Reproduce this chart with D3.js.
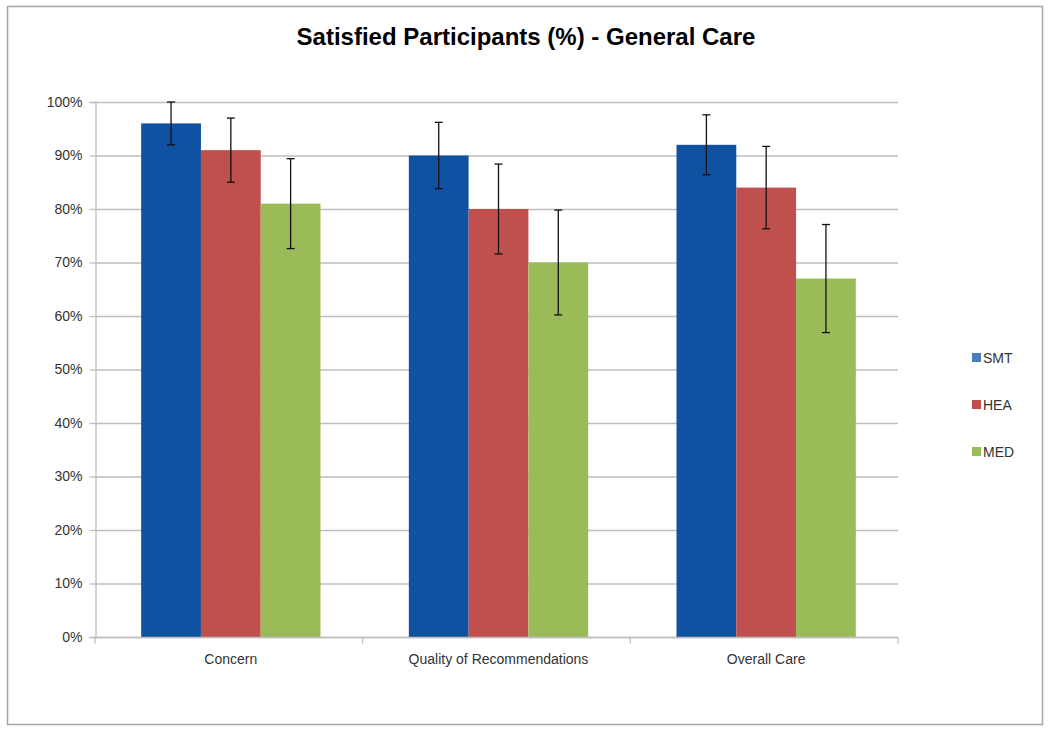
<!DOCTYPE html>
<html><head><meta charset="utf-8">
<script src="https://cdn.jsdelivr.net/npm/d3@7"></script>
<style>body{margin:0;background:#fff;} svg{display:block;}</style>
</head><body>
<svg id="chart" width="1050" height="731"></svg>
<script>
const categories = ["Concern", "Quality of Recommendations", "Overall Care"];
const seriesNames = ["SMT", "HEA", "MED"];
const smtValues = [96, 90, 92];
const heaValues = [91, 80, 84];
const medValues = [81, 70, 67];
const smtErrors = [4, 6.2, 5.6];
const heaErrors = [6, 8.4, 7.7];
const medErrors = [8.4, 9.8, 10.1];
const yTicks = [0, 10, 20, 30, 40, 50, 60, 70, 80, 90, 100];

const barColors = ["#1052A2", "#C0504D", "#9BBB59"];
const legendColors = ["#4A7EBB", "#C0504D", "#9BBB59"];
const values = [smtValues, heaValues, medValues];
const errors = [smtErrors, heaErrors, medErrors];

const svg = d3.select("#chart");
const font = "'Liberation Sans', Arial, sans-serif";

svg.append("rect").attr("x", 7.5).attr("y", 6.5).attr("width", 1035).attr("height", 718)
  .attr("fill", "#fff").attr("stroke", "#A6A6A6").attr("stroke-width", 1.5);

const m = {left: 95, right: 898, top: 102, bottom: 637};
const x0 = d3.scaleBand().domain(categories).range([m.left + 2, m.right + 2]).paddingInner(0.33).paddingOuter(0.165);
const x1 = d3.scaleBand().domain(seriesNames).range([0, x0.bandwidth()]);
const y = d3.scaleLinear().domain([0, 100]).range([m.bottom, m.top]);

// gridlines
svg.append("g").selectAll("line").data(yTicks).join("line")
  .attr("x1", m.left).attr("x2", m.right)
  .attr("y1", d => y(d) + 0.5).attr("y2", d => y(d) + 0.5)
  .attr("stroke", "#BEBEBE").attr("stroke-width", 1.3);

// y axis
const yAxis = svg.append("g").attr("transform", `translate(${m.left + 0.5},0)`)
  .call(d3.axisLeft(y).tickValues(yTicks).tickFormat(d => d + "%").tickSize(6).tickPadding(7));
yAxis.select(".domain").attr("stroke", "#BEBEBE").attr("stroke-width", 1.3);
yAxis.selectAll(".tick line").attr("stroke", "#BEBEBE").attr("stroke-width", 1.3);
yAxis.selectAll(".tick text").attr("font-family", font).attr("font-size", 14).attr("fill", "#333");

// bars
const groups = svg.append("g").selectAll("g").data(categories).join("g")
  .attr("transform", d => `translate(${x0(d)},0)`);
groups.selectAll("rect").data((c, i) => seriesNames.map((s, j) => ({s, j, v: values[j][i]}))).join("rect")
  .attr("x", d => x1(d.s)).attr("width", x1.bandwidth())
  .attr("y", d => y(d.v)).attr("height", d => y(0) - y(d.v))
  .attr("fill", d => barColors[d.j]);

// x axis
const xAxis = svg.append("g").attr("transform", `translate(0,${m.bottom + 0.5})`);
xAxis.append("line").attr("x1", m.left).attr("x2", m.right).attr("stroke", "#BEBEBE").attr("stroke-width", 1.3);
const step = (m.right - m.left) / categories.length;
xAxis.selectAll("line.tk").data(d3.range(categories.length + 1)).join("line").attr("class", "tk")
  .attr("x1", i => m.left + i * step).attr("x2", i => m.left + i * step)
  .attr("y1", 0).attr("y2", 6).attr("stroke", "#BEBEBE").attr("stroke-width", 1.3);
xAxis.selectAll("text").data(categories).join("text")
  .attr("x", d => x0(d) + x0.bandwidth() / 2).attr("y", 26)
  .attr("text-anchor", "middle").attr("font-family", font).attr("font-size", 14).attr("fill", "#333")
  .text(d => d);

// error bars
const eb = groups.selectAll("g.err").data((c, i) => seriesNames.map((s, j) => ({s, j, v: values[j][i], e: errors[j][i]}))).join("g").attr("class", "err");
eb.append("line").attr("x1", d => x1(d.s) + x1.bandwidth() / 2).attr("x2", d => x1(d.s) + x1.bandwidth() / 2)
  .attr("y1", d => y(d.v + d.e)).attr("y2", d => y(d.v - d.e)).attr("stroke", "#111").attr("stroke-width", 1.3);
["+", "-"].forEach(sg => {
  eb.append("line").attr("x1", d => x1(d.s) + x1.bandwidth() / 2 - 4).attr("x2", d => x1(d.s) + x1.bandwidth() / 2 + 4)
    .attr("y1", d => y(sg === "+" ? d.v + d.e : d.v - d.e)).attr("y2", d => y(sg === "+" ? d.v + d.e : d.v - d.e))
    .attr("stroke", "#111").attr("stroke-width", 1.3);
});

// title
svg.append("text").attr("x", 526).attr("y", 45).attr("text-anchor", "middle")
  .attr("font-family", font).attr("font-weight", "bold").attr("font-size", 24).attr("fill", "#000")
  .text("Satisfied Participants (%) - General Care");

// legend
const legend = svg.append("g").selectAll("g").data(seriesNames).join("g")
  .attr("transform", (d, i) => `translate(972,${353 + i * 47})`);
legend.append("rect").attr("width", 9).attr("height", 9).attr("fill", (d, i) => legendColors[i]);
legend.append("text").attr("x", 11).attr("y", 9.5).attr("font-family", font).attr("font-size", 14).attr("fill", "#333").text(d => d);
</script>
</body></html>
